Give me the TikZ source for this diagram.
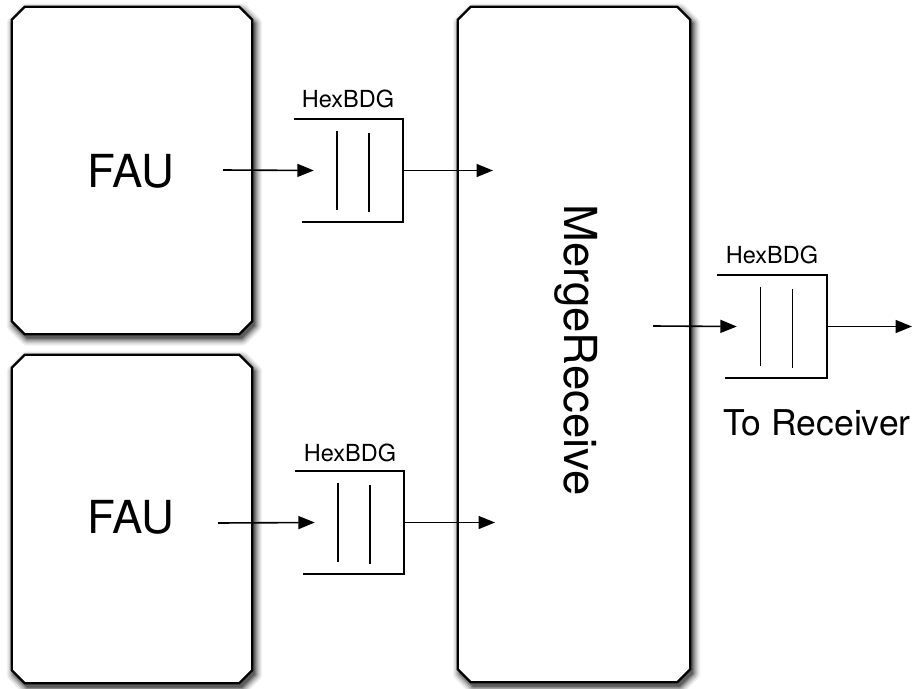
\documentclass[tikz,border=0pt]{standalone}
\usepackage{fontspec}
\setmainfont{TeX Gyre Heros}
\usetikzlibrary{arrows.meta}

\tikzset{
  unitarea/.style={draw=none, inner sep=0pt},
  unitline/.style={draw=black, line width=2.3pt, fill=white},
  shadowlayer/.style={draw=black!#1, fill=black!#1, line join=round},
  bigtext/.style={font=\fontsize{45.5}{45.5}\selectfont},
  qlabel/.style={font=\fontsize{23.5}{23.5}\selectfont},
  qframe/.style={line width=1.8pt},
  qbar/.style={line width=1.8pt},
  link/.style={line width=1.6pt, -{Triangle[length=16.5pt,width=13pt]}},
  qbox/.style={draw=none, inner sep=0pt, minimum width=109pt, minimum height=103pt},
}

% outline with cut corners around node #1: cut size #2, offset (#3,#4)
\newcommand\chamferpath[4]{%
  ([xshift=#3+#2, yshift=#4]#1.north west) -- ([xshift=#3-#2, yshift=#4]#1.north east)
  -- ([xshift=#3, yshift=#4-#2]#1.north east) -- ([xshift=#3, yshift=#4+#2]#1.south east)
  -- ([xshift=#3-#2, yshift=#4]#1.south east) -- ([xshift=#3+#2, yshift=#4]#1.south west)
  -- ([xshift=#3, yshift=#4+#2]#1.south west) -- ([xshift=#3, yshift=#4-#2]#1.north west)
  -- cycle}

% soft drop shadow built from opaque layers, then the framed unit itself
\newcommand\chamferedunit[1]{%
  \foreach \w/\k in {15pt/5, 13pt/10, 11pt/16, 9pt/23, 7pt/31, 5pt/40, 3pt/50, 1pt/58, 0.1pt/64}{
    \path[shadowlayer=\k, line width=\w] \chamferpath{#1}{13pt}{2.5pt}{-4pt};
  }
  \path[unitline] \chamferpath{#1}{13pt}{0pt}{0pt};}

\begin{document}
\begin{tikzpicture}[x=1pt, y=-1pt]
\useasboundingbox (0,0) rectangle (915,688);

% processing units
\node[unitarea, minimum width=240pt, minimum height=327pt] (fau1) at (132,170.5) {};
\node[unitarea, minimum width=240pt, minimum height=328pt] (fau2) at (132,519) {};
\node[unitarea, minimum width=232pt, minimum height=675pt] (merge) at (574,344.5) {};
\chamferedunit{fau1}
\chamferedunit{fau2}
\chamferedunit{merge}

\node[bigtext] (fau1t) at (131,171) {FAU};
\node[bigtext] (fau2t) at (131,517) {FAU};
\node[bigtext, rotate=-90] (merget) at (576,350) {MergeReceive};

% queues
\node[qbox] (q1) at (348.5,170.5) {};
\node[qbox] (q2) at (349.5,522.5) {};
\node[qbox, minimum width=110pt] (q3) at (772,326.5) {};

\foreach \q in {q1,q2,q3}{
  \draw[qframe] (\q.north west) -- (\q.north east) -- (\q.south east)
    -- ([xshift=8.5pt]\q.south west);
  \draw[qbar] ([xshift=-11.5pt,yshift=-12pt]\q.north) -- ([xshift=-11.5pt,yshift=12pt]\q.south);
  \draw[qbar] ([xshift=20.5pt,yshift=-14pt]\q.north) -- ([xshift=20.5pt,yshift=10pt]\q.south);
}

\node[qlabel] (l1) at (348,99) {HexBDG};
\node[qlabel] (l2) at (350,453) {HexBDG};
\node[qlabel] (l3) at (772,255) {HexBDG};
\node[font=\fontsize{35.5}{35.5}\selectfont] (recv) at (817,423) {To Receiver};

% connector end points
\coordinate (a1) at (223,170);
\coordinate (a2) at (218,523);
\coordinate (a3) at (653,326);
\coordinate (t1) at ([xshift=20pt]q1.west);
\coordinate (t2) at ([xshift=20pt]q2.west);
\coordinate (t3) at ([xshift=20pt]q3.west);
\coordinate (m1) at (493,170.5);
\coordinate (m2) at (495,522.5);
\coordinate (out) at (912,326.5);

\draw[link] (a1) -- (t1);
\draw[link] (q1.east) -- (m1);
\draw[link] (a2) -- (t2);
\draw[link] (q2.east) -- (m2);
\draw[link] (a3) -- (t3);
\draw[link] (q3.east) -- (out);
\end{tikzpicture}
\end{document}
